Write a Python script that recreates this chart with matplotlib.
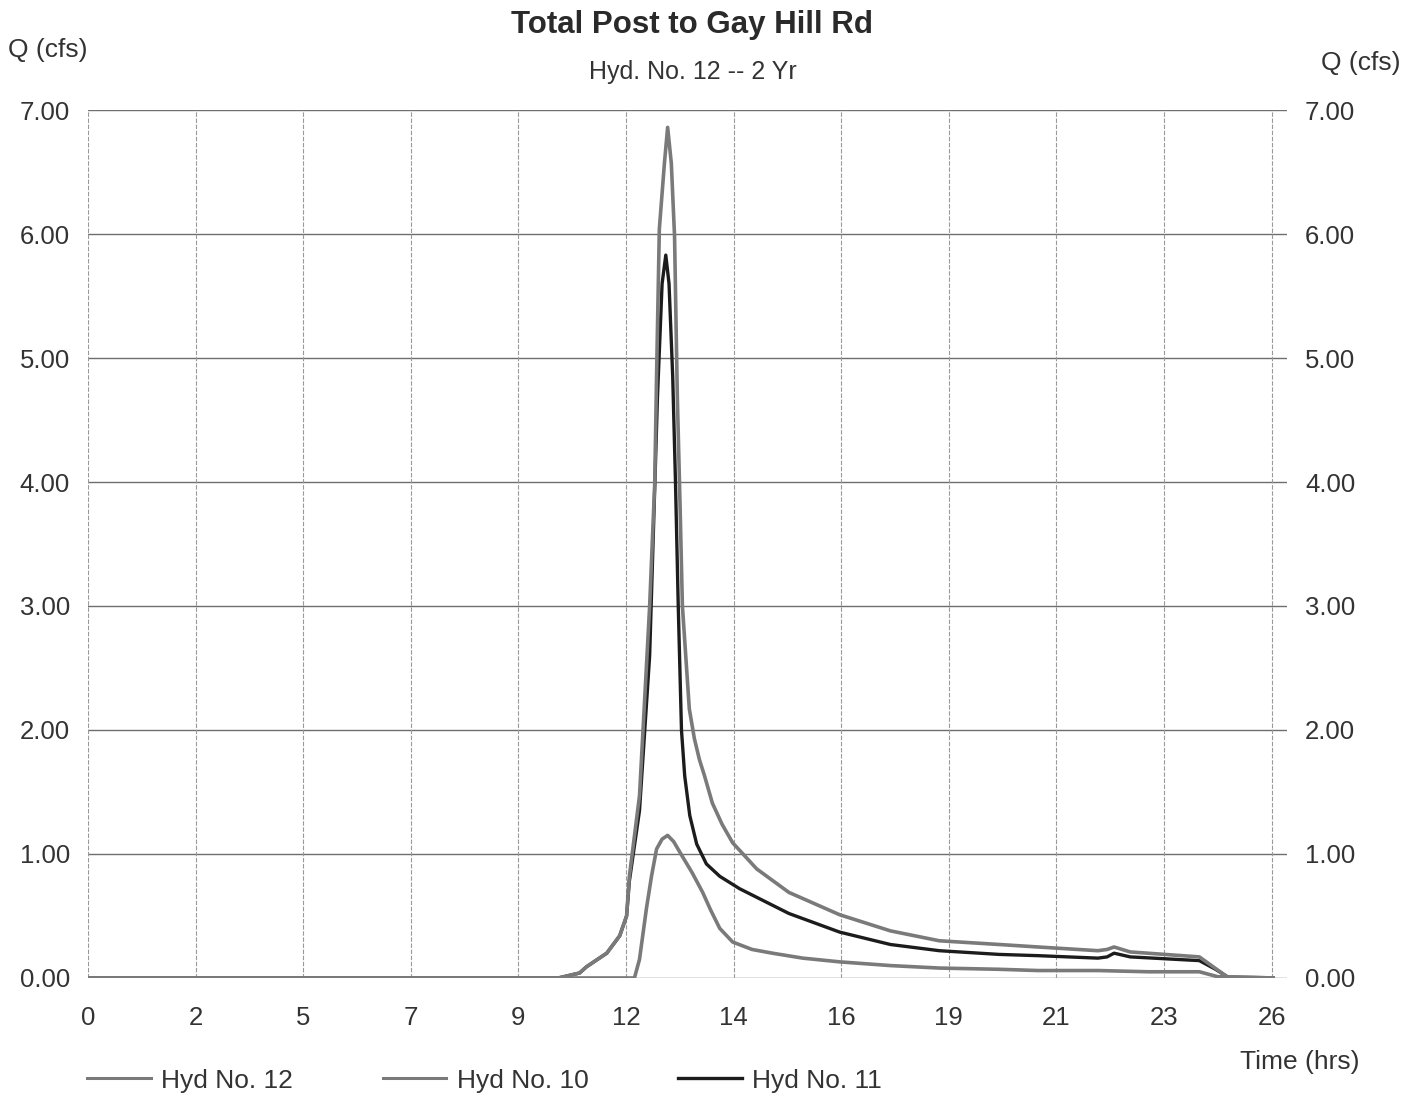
import matplotlib
matplotlib.use('Agg')
import matplotlib.pyplot as plt
from matplotlib.lines import Line2D

plt.rcParams['font.family'] = ['Liberation Sans', 'DejaVu Sans']

# hydrograph ordinates, time in hrs, flow in cfs
hyd12_t = [0, 10.2, 10.66, 10.81, 11.25, 11.53, 11.68, 11.74, 11.96, 12.18, 12.29, 12.33,
           12.39, 12.50, 12.57, 12.65, 12.72, 12.78, 12.84, 12.89, 13.04, 13.15, 13.26, 13.37,
           13.54, 13.75, 13.98, 14.13, 14.5, 15.2, 16.3, 17.4, 18.46, 19.76, 20.6, 21.9, 22.1,
           22.25, 22.6, 24.1, 24.4, 24.7, 25.7]
hyd12_q = [0, 0, 0.04, 0.09, 0.2, 0.34, 0.5, 0.82, 1.47, 3.0, 3.99, 4.86,
           6.04, 6.57, 6.86, 6.57, 5.98, 4.69, 3.8, 3.0, 2.17, 1.93, 1.76, 1.63,
           1.41, 1.24, 1.09, 1.03, 0.88, 0.69, 0.51, 0.38, 0.30, 0.27, 0.25, 0.22, 0.23,
           0.25, 0.21, 0.17, 0.09, 0.01, 0]

hyd10_t = [0, 11.85, 11.96, 12.11, 12.22, 12.33, 12.45, 12.57, 12.7, 12.89, 13.1, 13.33,
           13.5, 13.7, 13.98, 14.4, 14.84, 15.5, 16.3, 17.4, 18.46, 19.76, 20.6, 21.9,
           23.0, 24.1, 24.5, 25.7]
hyd10_q = [0, 0, 0.15, 0.56, 0.82, 1.04, 1.12, 1.15, 1.1, 0.98, 0.85, 0.69,
           0.55, 0.40, 0.29, 0.23, 0.2, 0.16, 0.13, 0.1, 0.08, 0.07, 0.06, 0.06,
           0.05, 0.05, 0.01, 0]

hyd11_t = [0, 10.2, 10.66, 10.81, 11.25, 11.53, 11.68, 11.74, 11.96, 12.18, 12.35, 12.45,
           12.53, 12.6, 12.68, 12.74, 12.80, 12.87, 12.94, 13.05, 13.2, 13.41, 13.7, 14.13,
           15.2, 16.3, 17.4, 18.46, 19.76, 20.6, 21.9, 22.1, 22.25, 22.6, 24.1, 24.45,
           24.75, 25.7]
hyd11_q = [0, 0, 0.04, 0.09, 0.2, 0.34, 0.5, 0.78, 1.35, 2.6, 4.69, 5.6,
           5.83, 5.6, 4.85, 4.0, 3.0, 2.0, 1.63, 1.31, 1.08, 0.92, 0.82, 0.72,
           0.52, 0.37, 0.27, 0.22, 0.19, 0.18, 0.16, 0.17, 0.20, 0.17, 0.14, 0.07,
           0.0, 0.0]

x_ticks = [k * 28 / 12 for k in range(12)]
x_labels = [str(int(round(v))) for v in x_ticks]
y_ticks = [0, 1, 2, 3, 4, 5, 6, 7]

fig = plt.figure(figsize=(14.16, 10.97), dpi=100)
ax = fig.add_axes([0.0621, 0.1085, 0.8468, 0.7912])

ax.set_xlim(0, 26)
ax.set_ylim(0, 7)
ax.set_xticks(x_ticks)
ax.set_xticklabels(x_labels)
ax.set_yticks(y_ticks)
ax.set_yticklabels(['%.2f' % v for v in y_ticks])
ax.tick_params(axis='y', length=0, pad=13, labelsize=18.5, labelcolor='#333333',
               labelright=True)
ax.tick_params(axis='x', length=0, pad=20, labelsize=18.5, labelcolor='#333333')
for s in ax.spines.values():
    s.set_visible(False)

for v in y_ticks:
    ax.axhline(v, color='#6e6e6e', lw=1.0, zorder=1)
for v in x_ticks:
    ax.axvline(v, color='#9a9a9a', lw=0.8, ls=(0, (4, 1.5)), zorder=1)

ax.plot(hyd11_t, hyd11_q, color='#1c1c1c', lw=2.4, zorder=3)
ax.plot(hyd10_t, hyd10_q, color='#7a7a7a', lw=2.6, zorder=4)
ax.plot(hyd12_t, hyd12_q, color='#7a7a7a', lw=2.6, zorder=4)

fig.text(0.489, 0.977, 'Total Post to Gay Hill Rd', ha='center', va='center',
         fontsize=22.5, fontweight='bold', color='#2a2a2a')
fig.text(0.489, 0.934, 'Hyd. No. 12 -- 2 Yr', ha='center', va='center',
         fontsize=18, color='#333333')
fig.text(0.006, 0.954, 'Q (cfs)', ha='left', va='center', fontsize=19, color='#333333')
fig.text(0.989, 0.943, 'Q (cfs)', ha='right', va='center', fontsize=19, color='#333333')
fig.text(0.960, 0.032, 'Time (hrs)', ha='right', va='center', fontsize=19, color='#333333')

handles = [Line2D([], [], color='#7a7a7a', lw=2.2),
           Line2D([], [], color='#7a7a7a', lw=2.2),
           Line2D([], [], color='#1c1c1c', lw=2.4)]
fig.legend(handles, ['Hyd No. 12', 'Hyd No. 10', 'Hyd No. 11'], loc='center left',
           bbox_to_anchor=(0.045, 0.015), ncol=3, frameon=False, fontsize=19,
           handlelength=2.4, handletextpad=0.4, columnspacing=3.4, labelcolor='#333333')

fig.savefig('out.png', dpi=100)
